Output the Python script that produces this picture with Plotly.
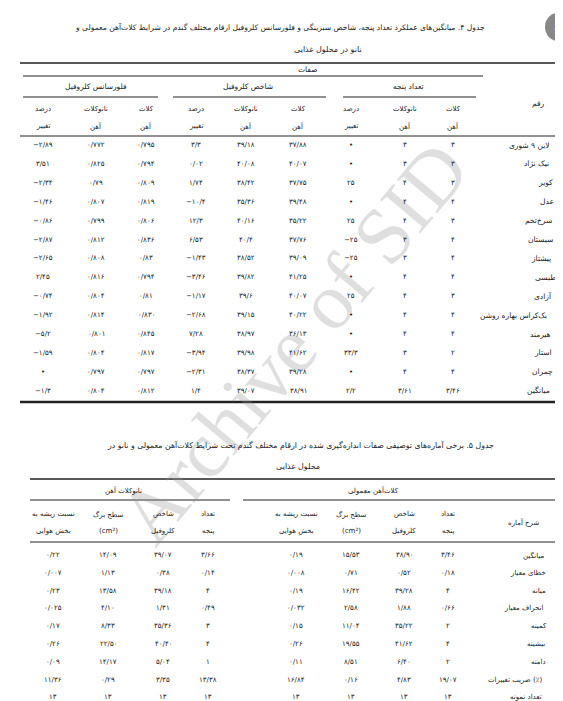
import plotly.graph_objects as go

def fa(s):
    s = str(s)
    m = {'0':'۰','1':'۱','2':'۲','3':'۳','4':'۴','5':'۵','6':'۶','7':'۷','8':'۸','9':'۹','.':'/','-':'−'}
    if s == '0':
        return '•'
    return ''.join(m.get(c, c) for c in s)

# ---------- Table 4 data ----------
cultivars = ['لاین ۹ شوری','نیک نژاد','کویر','عدل','سرخ‌تخم','سیستان','پیشتاز','طبسی','آزادی',
             'بک‌کراس بهاره روشن','هیرمند','استار','چمران','میانگین']
spike_chelate = ['3','3','3','4','3','4','4','4','3','4','4','2','4','3.46']
spike_nano = ['3','3','4','4','4','3','3','4','4','4','4','3','4','3.61']
spike_change = ['0','0','25','0','25','-25','-25','0','25','0','0','33.3','0','2.2']
chl_chelate = ['37.88','40.07','37.75','39.48','35.22','37.76','39.09','41.25','40.07','40.22','36.13','41.62','39.28','38.91']
chl_nano = ['39.18','40.08','38.42','35.36','40.16','40.4','38.52','39.82','39.6','39.15','38.97','39.98','38.37','39.07']
chl_change = ['3.3','0.02','1.74','-10.4','12.3','6.53','-1.43','-3.46','-1.17','-2.68','7.28','-3.94','-2.31','1.4']
flu_chelate = ['0.795','0.794','0.809','0.819','0.806','0.836','0.83','0.794','0.81','0.830','0.845','0.817','0.797','0.812']
flu_nano = ['0.772','0.825','0.79','0.807','0.799','0.812','0.808','0.816','0.804','0.814','0.801','0.804','0.797','0.804']
flu_change = ['-2.89','3.51','-2.34','-1.46','-0.86','-2.87','-2.65','2.45','-0.74','-1.92','-5.2','-1.59','0','-1.3']

# ---------- Table 5 data ----------
stats = ['میانگین','خطای معیار','میانه','انحراف معیار','کمینه','بیشینه','دامنه','ضریب تغییرات (٪)','تعداد نمونه']
reg_spike = ['3.46','0.18','4','0.66','2','4','2','19.07','13']
reg_chl = ['38.90','0.52','39.28','1.88','35.22','41.62','6.40','4.83','13']
reg_leaf = ['15.53','0.71','16.42','2.58','11.04','19.55','8.51','0.16','13']
reg_root = ['0.19','0.008','0.19','0.032','0.15','0.26','0.11','16.84','13']
nano_spike = ['3.66','0.14','4','0.49','3','4','1','13.38','13']
nano_chl = ['39.07','0.38','39.18','1.31','35.36','40.40','5.04','3.35','13']
nano_leaf = ['14.09','1.13','13.58','4.10','8.33','22.50','14.17','0.29','13']
nano_root = ['0.22','0.007','0.23','0.025','0.17','0.26','0.09','11.36','13']

F = 'DejaVu Sans'
fig = go.Figure()
ann = []
shapes = []

def txt(x, y, t, size=8, color='#222'):
    ann.append(dict(x=x, y=y, text=t, showarrow=False, xanchor='center', yanchor='middle',
                    font=dict(family=F, size=size, color=color)))

def rtxt(xr, y, t, size=7.5):
    # right-aligned RTL label, placed by estimated centre
    w = len(t) * size * 0.6 + 14
    txt(xr - w / 2, y, t, size)

def line(x0, x1, y, w=1):
    shapes.append(dict(type='line', x0=x0, x1=x1, y0=y, y1=y, line=dict(color='#222', width=w)))

# watermark
ann.append(dict(x=285, y=335, text='Archive of SID', showarrow=False, textangle=-50,
                font=dict(family='Liberation Serif', size=80, color='rgba(150,150,150,0.3)')))

# page number
shapes.append(dict(type='circle', x0=537, x1=563, y0=5, y1=33, fillcolor='#888', line=dict(width=0)))
txt(550, 19, '8', 13, color='white')

txt(272, 19, 'جدول ۴. میانگین‌های عملکرد تعداد پنجه، شاخص سبزینگی و فلورسانس کلروفیل ارقام مختلف گندم در شرایط کلات‌آهن معمولی و', 7.6)
txt(320, 41, 'نانو در محلول غذایی', 8)

line(12, 555, 55, 1.5)
txt(300, 61, 'صفات', 7.5)
line(15, 475, 68)
txt(530, 95, 'رقم', 7.5)
groups1 = [(400, 'تعداد پنجه', 335, 468), (240, 'شاخص کلروفیل', 165, 318), (88, 'فلورسانس کلروفیل', 15, 150)]
for xc, t, a, b in groups1:
    txt(xc, 78, t, 7.5)
    line(a, b, 89)
cols1 = [445, 397, 343, 290, 238, 188, 138, 88, 35]
sub1 = [('کلات', 'آهن'), ('نانوکلات', 'آهن'), ('درصد', 'تغییر')] * 3
for x, (a, b) in zip(cols1, sub1):
    txt(x, 101, a, 7)
    txt(x, 118, b, 7)
line(12, 555, 128)

series1 = [spike_chelate, spike_nano, spike_change, chl_chelate, chl_nano, chl_change, flu_chelate, flu_nano, flu_change]
for i, name in enumerate(cultivars):
    y = 137 + i * 18.9
    rtxt(553, y, name, 7.5)
    for x, s in zip(cols1, series1):
        txt(x, y, fa(s[i]), 7)
line(12, 555, 394, 2.5)

txt(292, 437, 'جدول ۵. برخی آماره‌های توصیفی صفات اندازه‌گیری شده در ارقام مختلف گندم تحت شرایط کلات‌آهن معمولی و نانو در', 7.8)
txt(290, 458, 'محلول غذایی', 8)
line(22, 555, 471, 1.5)
txt(115, 482, 'نانوکلات آهن', 7)
line(22, 222, 492)
txt(365, 482, 'کلات‌آهن معمولی', 7)
line(235, 555, 492)
txt(515, 514, 'شرح آماره', 7)
cols2 = [440, 396, 343, 288, 200, 155, 100, 45]
sub2 = [('تعداد', 'پنجه'), ('شاخص', 'کلروفیل'), ('سطح برگ', '(cm²)'), ('نسبت ریشه به', 'بخش هوایی')] * 2
for x, (a, b) in zip(cols2, sub2):
    txt(x, 506, a, 7)
    txt(x, 523, b, 7)
line(22, 555, 534)
series2 = [reg_spike, reg_chl, reg_leaf, reg_root, nano_spike, nano_chl, nano_leaf, nano_root]
for i, name in enumerate(stats):
    y = 547 + i * 17.8
    rtxt(548, y, name, 7)
    for x, s in zip(cols2, series2):
        txt(x, y, fa(s[i]), 7)
line(22, 540, 699, 2.5)
shapes.append(dict(type='rect', x0=542, x1=558, y0=693, y1=701, fillcolor='#bbb', line=dict(width=0)))

fig.update_layout(width=563, height=701, margin=dict(l=0, r=0, t=0, b=0),
                  paper_bgcolor='white', plot_bgcolor='white',
                  xaxis=dict(range=[0, 563], visible=False, fixedrange=True),
                  yaxis=dict(range=[701, 0], visible=False, fixedrange=True),
                  annotations=ann, shapes=shapes, showlegend=False)
fig.write_html('out.html')
